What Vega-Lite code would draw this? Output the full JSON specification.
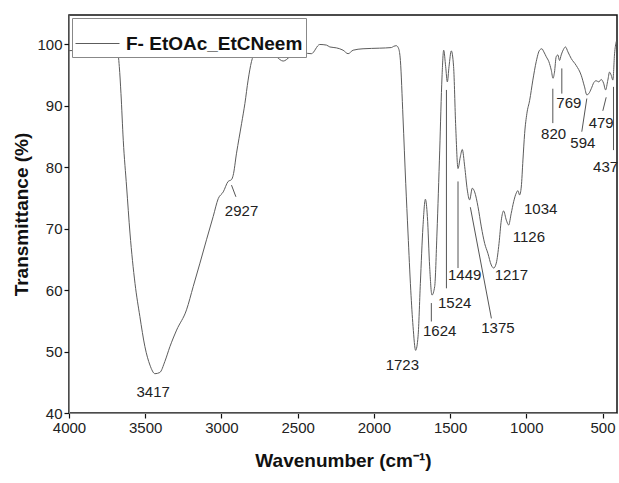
{
  "$schema": "https://vega.github.io/schema/vega-lite/v6.json",
  "width": 548,
  "height": 398,
  "autosize": {"type": "none"},
  "padding": {"left": 69, "top": 15, "right": 2, "bottom": 70},
  "background": "white",
  "config": {"font": "Liberation Sans", "view": {"stroke": "#111", "strokeWidth": 1.5}},
  "datasets": {
    "spectrum": [
      {"wn":4000,"t":99.0},{"wn":3928,"t":99.07},{"wn":3841,"t":99.5},{"wn":3753,"t":99.77},{"wn":3720,"t":100.1},{"wn":3698,"t":99.5},{"wn":3683,"t":99.2},{"wn":3670,"t":96.4},{"wn":3659,"t":92.0},{"wn":3644,"t":84.4},{"wn":3622,"t":76.8},{"wn":3600,"t":69.3},{"wn":3567,"t":61.1},{"wn":3535,"t":55.7},{"wn":3502,"t":50.8},{"wn":3469,"t":47.8},{"wn":3436,"t":46.4},{"wn":3404,"t":46.6},{"wn":3371,"t":48.4},{"wn":3338,"t":50.8},{"wn":3294,"t":53.5},{"wn":3229,"t":56.8},{"wn":3185,"t":60.6},{"wn":3141,"t":64.4},{"wn":3098,"t":68.2},{"wn":3054,"t":72.0},{"wn":3021,"t":74.9},{"wn":2988,"t":76.0},{"wn":2956,"t":77.7},{"wn":2934,"t":78.0},{"wn":2923,"t":78.7},{"wn":2901,"t":82.3},{"wn":2868,"t":87.1},{"wn":2846,"t":90.4},{"wn":2825,"t":94.2},{"wn":2803,"t":97.2},{"wn":2781,"t":98.6},{"wn":2748,"t":99.0},{"wn":2683,"t":98.8},{"wn":2639,"t":98.0},{"wn":2595,"t":97.3},{"wn":2552,"t":98.0},{"wn":2508,"t":99.1},{"wn":2464,"t":98.7},{"wn":2410,"t":98.5},{"wn":2355,"t":100.0},{"wn":2311,"t":99.9},{"wn":2289,"t":99.6},{"wn":2246,"t":99.45},{"wn":2202,"t":99.07},{"wn":2169,"t":98.5},{"wn":2136,"t":99.07},{"wn":2071,"t":99.3},{"wn":1962,"t":99.4},{"wn":1885,"t":99.5},{"wn":1870,"t":99.7},{"wn":1852,"t":99.8},{"wn":1837,"t":99.3},{"wn":1826,"t":97.4},{"wn":1809,"t":88.2},{"wn":1791,"t":77.4},{"wn":1776,"t":69.3},{"wn":1758,"t":60.0},{"wn":1743,"t":54.1},{"wn":1726,"t":50.2},{"wn":1710,"t":52.5},{"wn":1695,"t":61.1},{"wn":1678,"t":70.3},{"wn":1662,"t":74.8},{"wn":1649,"t":72.0},{"wn":1634,"t":63.8},{"wn":1619,"t":59.2},{"wn":1601,"t":60.6},{"wn":1586,"t":69.3},{"wn":1568,"t":82.8},{"wn":1553,"t":94.7},{"wn":1542,"t":99.07},{"wn":1529,"t":96.4},{"wn":1518,"t":93.9},{"wn":1507,"t":96.4},{"wn":1492,"t":98.96},{"wn":1477,"t":96.4},{"wn":1463,"t":86.6},{"wn":1448,"t":79.8},{"wn":1433,"t":81.7},{"wn":1420,"t":82.9},{"wn":1404,"t":80.1},{"wn":1387,"t":76.3},{"wn":1372,"t":74.7},{"wn":1354,"t":76.6},{"wn":1339,"t":76.0},{"wn":1317,"t":73.6},{"wn":1295,"t":70.3},{"wn":1273,"t":67.6},{"wn":1252,"t":66.0},{"wn":1230,"t":64.1},{"wn":1214,"t":63.6},{"wn":1197,"t":64.4},{"wn":1179,"t":67.6},{"wn":1164,"t":71.4},{"wn":1149,"t":72.9},{"wn":1131,"t":71.4},{"wn":1116,"t":70.6},{"wn":1099,"t":72.5},{"wn":1083,"t":74.4},{"wn":1066,"t":75.8},{"wn":1055,"t":76.2},{"wn":1044,"t":75.5},{"wn":1033,"t":76.8},{"wn":1022,"t":81.2},{"wn":1011,"t":85.5},{"wn":996,"t":88.8},{"wn":978,"t":90.9},{"wn":957,"t":94.2},{"wn":935,"t":97.2},{"wn":913,"t":99.07},{"wn":898,"t":99.3},{"wn":885,"t":98.8},{"wn":869,"t":98.0},{"wn":852,"t":97.2},{"wn":836,"t":95.8},{"wn":825,"t":94.5},{"wn":815,"t":95.5},{"wn":804,"t":98.0},{"wn":793,"t":98.3},{"wn":782,"t":97.4},{"wn":771,"t":98.3},{"wn":756,"t":99.2},{"wn":743,"t":99.6},{"wn":727,"t":98.8},{"wn":705,"t":97.7},{"wn":673,"t":96.6},{"wn":640,"t":95.0},{"wn":618,"t":93.1},{"wn":603,"t":91.8},{"wn":590,"t":92.0},{"wn":574,"t":92.8},{"wn":557,"t":93.8},{"wn":542,"t":94.1},{"wn":524,"t":93.9},{"wn":509,"t":94.3},{"wn":493,"t":93.7},{"wn":480,"t":92.6},{"wn":465,"t":94.2},{"wn":454,"t":95.5},{"wn":443,"t":95.0},{"wn":432,"t":94.2},{"wn":421,"t":98.5},{"wn":410,"t":100.5}
    ],
    "peaks": [
      {"label":"3417","wn":3448,"t":43.5},
      {"label":"2927","wn":2868,"t":72.9},
      {"label":"1723","wn":1813,"t":47.85},
      {"label":"1624","wn":1568,"t":53.4},
      {"label":"1524","wn":1470,"t":57.9},
      {"label":"1449","wn":1404,"t":62.5},
      {"label":"1375","wn":1186,"t":53.8},
      {"label":"1217","wn":1098,"t":62.5},
      {"label":"1126","wn":983,"t":68.6},
      {"label":"1034","wn":906,"t":73.2},
      {"label":"820","wn":821,"t":85.5},
      {"label":"769","wn":721,"t":90.4},
      {"label":"594","wn":629,"t":83.9},
      {"label":"479","wn":509,"t":87.2},
      {"label":"437","wn":480,"t":80.1}
    ],
    "leaders": [
      {"wn":2934,"t":77.1,"wn2":2905,"t2":75.2},
      {"wn":1623,"t":57.9,"wn2":1623,"t2":54.9},
      {"wn":1524,"t":92.6,"wn2":1524,"t2":60.3},
      {"wn":1448,"t":77.7,"wn2":1448,"t2":63.6},
      {"wn":1367,"t":73.5,"wn2":1229,"t2":55.4},
      {"wn":826,"t":92.8,"wn2":826,"t2":87.2},
      {"wn":767,"t":96.1,"wn2":767,"t2":92.0},
      {"wn":603,"t":91.2,"wn2":636,"t2":85.8},
      {"wn":476,"t":91.4,"wn2":498,"t2":89.2},
      {"wn":428,"t":93.1,"wn2":428,"t2":82.8}
    ]
  },
  "layer": [
    {
      "data": {"name": "spectrum"},
      "mark": {"type": "line", "strokeWidth": 1, "interpolate": "monotone"},
      "encoding": {
        "x": {
          "field": "wn", "type": "quantitative",
          "scale": {"domain": [405, 4000], "reverse": true, "nice": false, "zero": false},
          "axis": {
            "values": [4000,3750,3500,3250,3000,2750,2500,2250,2000,1750,1500,1250,1000,750,500],
            "format": "d",
            "labelExpr": "datum.value % 500 === 0 ? datum.label : ''",
            "labelFlush": false,
            "tickColor": "#111", "tickWidth": 1.2,
            "title": "Wavenumber (cm⁻¹)",
            "grid": false,
            "labelFontSize": 15, "labelColor": "#222",
            "titleFontSize": 19, "titleFontWeight": "bold", "titleColor": "#111", "titlePadding": 16
          }
        },
        "y": {
          "field": "t", "type": "quantitative",
          "scale": {"domain": [40, 104.8], "nice": false, "zero": false},
          "axis": {
            "values": [40,45,50,55,60,65,70,75,80,85,90,95,100],
            "labelExpr": "datum.value % 10 === 0 ? datum.label : ''",
            "tickColor": "#111", "tickWidth": 1.2,
            "title": "Transmittance (%)",
            "grid": false,
            "labelFontSize": 15, "labelColor": "#222",
            "titleFontSize": 19, "titleFontWeight": "bold", "titleColor": "#111", "titlePadding": 5
          }
        },
        "color": {
          "datum": "F- EtOAc_EtCNeem",
          "type": "nominal",
          "scale": {"range": ["#5c5c5c"]},
          "legend": {
            "title": null, "orient": "top-left", "offset": 3, "padding": 3,
            "strokeColor": "#888", "fillColor": "white",
            "symbolType": "stroke", "symbolSize": 1936, "symbolStrokeWidth": 1,
            "labelFontSize": 19, "labelFontWeight": "bold", "labelColor": "#111", "labelOffset": 6,
            "labelLimit": 400
          }
        }
      }
    },
    {
      "data": {"name": "leaders"},
      "mark": {"type": "rule", "color": "#555", "strokeWidth": 1},
      "encoding": {
        "x": {"field": "wn", "type": "quantitative"},
        "y": {"field": "t", "type": "quantitative"},
        "x2": {"field": "wn2"},
        "y2": {"field": "t2"}
      }
    },
    {
      "data": {"name": "peaks"},
      "mark": {"type": "text", "fontSize": 15, "color": "#222", "align": "center", "baseline": "middle"},
      "encoding": {
        "x": {"field": "wn", "type": "quantitative"},
        "y": {"field": "t", "type": "quantitative"},
        "text": {"field": "label"}
      }
    }
  ]
}
